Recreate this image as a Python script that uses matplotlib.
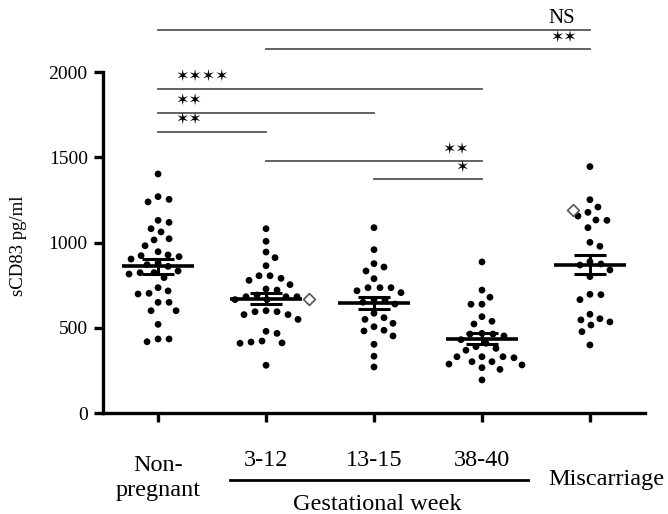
import numpy as np
import matplotlib
matplotlib.use("Agg")
import matplotlib.pyplot as plt

plt.rcParams['font.family'] = ['Liberation Serif', 'DejaVu Serif']

# ---- data (sCD83 pg/ml) ----
groups = ["Non-\npregnant", "3-12", "13-15", "38-40", "Miscarriage"]

non_pregnant = [1402, 1253, 1238, 1269, 1130, 1118, 1081, 1062, 1022, 1015, 981,
                946, 927, 917, 923, 903, 880, 870, 860, 833, 823, 794, 815, 823,
                735, 702, 698, 716, 649, 649, 600, 600, 520, 434, 418, 434]
gw_3_12 = [1081, 1007, 944, 911, 864, 805, 790, 805, 778, 753, 721, 727,
           682, 682, 682, 692, 665, 665, 600, 594, 577, 549, 577, 594,
           479, 467, 422, 411, 409, 416, 280]
gw_13_15 = [1087, 958, 856, 833, 876, 788, 735, 735, 706, 717, 735,
            663, 667, 639, 650, 585, 526, 549, 559, 506, 485, 452, 481,
            403, 333, 270]
gw_38_40 = [886, 721, 679, 638, 638, 565, 522, 538, 463, 463, 467, 452,
            430, 409, 379, 389, 368, 324, 301, 330, 330, 330, 287, 301,
            282, 256, 266, 194]
miscarriage = [1445, 1251, 1208, 1155, 1177, 1132, 1130, 1087, 978, 1001,
               874, 839, 868, 800, 888, 694, 665, 696, 579, 546, 534, 553,
               516, 477, 399]
values = [non_pregnant, gw_3_12, gw_13_15, gw_38_40, miscarriage]

means = [862, 669, 645, 436, 870]
sems = [44, 32, 36, 31, 55]

# open diamonds (group index, value)
diamond_groups = [1, 4]
diamond_values = [667, 1193]

# significance comparisons: (from, to, label)
sig_pairs = [(0, 4, "NS"), (1, 4, "**"), (0, 3, "****"), (0, 2, "**"),
             (0, 1, "**"), (1, 3, "**"), (2, 3, "*")]

# ---- layout ----
W, H = 668, 514
fig = plt.figure(figsize=(W / 100, H / 100), dpi=100)
ax = fig.add_axes([103 / W, 101 / H, 542 / W, 341 / H])
ax.set_xlim(-0.51, 4.51)
ax.set_ylim(0, 2000)

sig_levels = [2246, 2135, 1900, 1760, 1648, 1478, 1372]
sig_side = ["right", "right", "left", "left", "left", "right", "right"]
diamond_dx = [0.40, -0.16]


def swarm(xc, vals, d=10.5, step=1.0):
    """simple beeswarm in pixel space, returns data x positions"""
    pts = ax.transData.transform(np.column_stack([np.full(len(vals), xc), vals]))
    order = np.argsort(-np.asarray(vals))
    placed = []
    xs = np.zeros(len(vals))
    x0 = pts[0, 0]
    for i in order:
        y = pts[i, 1]
        k = 0
        while True:
            for off in ([0] if k == 0 else [k * step, -k * step]):
                ok = all((x0 + off - px) ** 2 + (y - py) ** 2 >= d * d for px, py in placed)
                if ok:
                    break
            else:
                k += 1
                continue
            break
        placed.append((x0 + off, y))
        xs[i] = x0 + off
    back = ax.transData.inverted().transform(np.column_stack([xs, pts[:, 1]]))
    return back[:, 0]


for i, vals in enumerate(values):
    xs = swarm(i, vals)
    ax.scatter(xs, vals, s=24, color="black", edgecolors="none", zorder=3)
    ax.hlines(means[i], i - 0.33, i + 0.33, color="black", lw=2.6, zorder=4)
    ax.vlines(i, means[i] - sems[i], means[i] + sems[i], color="black", lw=2.2, zorder=4)
    ax.hlines([means[i] - sems[i], means[i] + sems[i]], i - 0.15, i + 0.15,
              color="black", lw=2.2, zorder=4)

for g, v, dx in zip(diamond_groups, diamond_values, diamond_dx):
    ax.scatter(g + dx, v, marker="D", s=36, facecolors="white",
               edgecolors="#555555", linewidths=1.2, zorder=3)

for (a, b, lab), lev, side in zip(sig_pairs, sig_levels, sig_side):
    ax.plot([a, b], [lev, lev], color="#555555", lw=1.3, clip_on=False)
    if lab == "NS":
        ax.text(b - 0.14, lev + 65, lab, ha="right", va="center", fontsize=15,
                clip_on=False)
        continue
    stars = "\u2736" * len(lab)
    if side == "left":
        ax.text(a + 0.16, lev + 70, stars, ha="left", va="center", fontsize=11.5,
                family="DejaVu Sans", clip_on=False)
    else:
        ax.text(b - 0.12, lev + 65, stars, ha="right", va="center", fontsize=11.5,
                family="DejaVu Sans", clip_on=False)

# axes styling
for s in ["top", "right"]:
    ax.spines[s].set_visible(False)
for s in ["left", "bottom"]:
    ax.spines[s].set_linewidth(2.4)
ax.set_yticks([0, 500, 1000, 1500, 2000])
ax.set_xticks(range(len(groups)))
ax.set_xticklabels([])
ax.tick_params(axis="both", direction="out", length=6.5, width=2.4, labelsize=14)
ax.tick_params(axis="y", pad=4.5)
ax.set_ylabel("sCD83 pg/ml", fontsize=13.5)
ax.yaxis.set_label_coords(-(103 - 27) / 542, 0.49)

# category labels
xt = ax.get_xaxis_transform()
label_y = [(413 - 478) / 341, (413 - 461) / 341, (413 - 461) / 341,
           (413 - 461) / 341, (413 - 479) / 341]
label_x = [0, 1, 2, 3, 4.15]
for x, y, lab in zip(label_x, label_y, groups):
    ax.text(x, y, lab, transform=xt, ha="center", va="center", fontsize=17.5,
            linespacing=1.2)
ax.plot([(230 - 158) / 108, (528 - 158) / 108], [(413 - 480) / 341] * 2,
        transform=xt, color="black", lw=2, clip_on=False)
ax.text(2.03, (413 - 505) / 341, "Gestational week", transform=xt,
        ha="center", va="center", fontsize=17.5)

fig.savefig("out.png", dpi=100)
